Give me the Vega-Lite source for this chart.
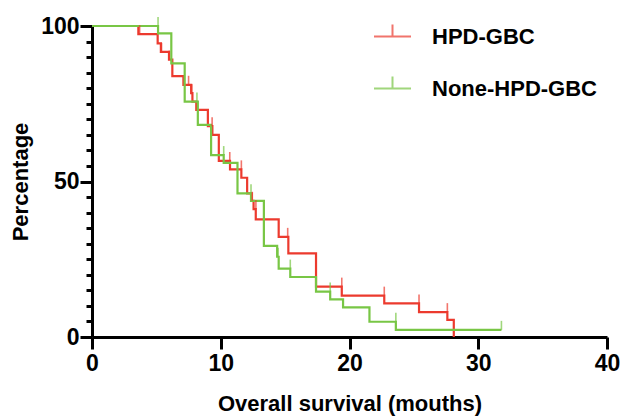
{
  "$schema": "https://vega.github.io/schema/vega-lite/v6.json",
  "width": 515,
  "height": 311,
  "autosize": {"type": "none"},
  "padding": {"left": 92, "top": 26, "right": 14, "bottom": 79},
  "background": "white",
  "config": {"view": {"stroke": null}, "font": "Liberation Sans"},
  "datasets": {
    "curve": [
      {"group": "HPD-GBC", "t": 0, "s": 100},
      {"group": "HPD-GBC", "t": 3.6, "s": 97.4},
      {"group": "HPD-GBC", "t": 5.1, "s": 94.4},
      {"group": "HPD-GBC", "t": 5.35, "s": 91.7},
      {"group": "HPD-GBC", "t": 5.98, "s": 89.2},
      {"group": "HPD-GBC", "t": 6.24, "s": 83.9},
      {"group": "HPD-GBC", "t": 7.1, "s": 81.1},
      {"group": "HPD-GBC", "t": 7.7, "s": 78.4},
      {"group": "HPD-GBC", "t": 7.8, "s": 75.7},
      {"group": "HPD-GBC", "t": 8.1, "s": 73.0},
      {"group": "HPD-GBC", "t": 9.0, "s": 67.8},
      {"group": "HPD-GBC", "t": 9.35, "s": 65.0},
      {"group": "HPD-GBC", "t": 9.85, "s": 56.6},
      {"group": "HPD-GBC", "t": 10.72, "s": 53.9},
      {"group": "HPD-GBC", "t": 11.6, "s": 51.2},
      {"group": "HPD-GBC", "t": 12.05, "s": 46.2},
      {"group": "HPD-GBC", "t": 12.4, "s": 43.8},
      {"group": "HPD-GBC", "t": 12.55, "s": 41.1},
      {"group": "HPD-GBC", "t": 12.72, "s": 37.8},
      {"group": "HPD-GBC", "t": 14.5, "s": 32.2},
      {"group": "HPD-GBC", "t": 15.25, "s": 26.9},
      {"group": "HPD-GBC", "t": 17.4, "s": 16.2},
      {"group": "HPD-GBC", "t": 19.4, "s": 13.3},
      {"group": "HPD-GBC", "t": 22.7, "s": 10.8},
      {"group": "HPD-GBC", "t": 25.4, "s": 8.0},
      {"group": "HPD-GBC", "t": 27.6, "s": 5.5},
      {"group": "HPD-GBC", "t": 28.1, "s": 0},
      {"group": "None-HPD-GBC", "t": 0, "s": 100},
      {"group": "None-HPD-GBC", "t": 5.13, "s": 97.6},
      {"group": "None-HPD-GBC", "t": 6.16, "s": 88.0},
      {"group": "None-HPD-GBC", "t": 7.2, "s": 75.7},
      {"group": "None-HPD-GBC", "t": 8.22, "s": 68.2},
      {"group": "None-HPD-GBC", "t": 9.25, "s": 58.5},
      {"group": "None-HPD-GBC", "t": 10.23, "s": 56.0},
      {"group": "None-HPD-GBC", "t": 11.3, "s": 46.2},
      {"group": "None-HPD-GBC", "t": 12.35, "s": 43.8},
      {"group": "None-HPD-GBC", "t": 13.35, "s": 29.3},
      {"group": "None-HPD-GBC", "t": 14.38, "s": 25.8},
      {"group": "None-HPD-GBC", "t": 14.5, "s": 22.0},
      {"group": "None-HPD-GBC", "t": 15.4, "s": 19.3},
      {"group": "None-HPD-GBC", "t": 17.4, "s": 14.6},
      {"group": "None-HPD-GBC", "t": 18.5, "s": 12.1},
      {"group": "None-HPD-GBC", "t": 19.5, "s": 9.5},
      {"group": "None-HPD-GBC", "t": 21.55, "s": 4.9},
      {"group": "None-HPD-GBC", "t": 23.6, "s": 2.3},
      {"group": "None-HPD-GBC", "t": 31.8, "s": 2.3}
    ],
    "censor": [
      {"group": "HPD-GBC", "t": 3.7, "s": 97.4},
      {"group": "HPD-GBC", "t": 5.4, "s": 91.7},
      {"group": "HPD-GBC", "t": 6.0, "s": 89.2},
      {"group": "HPD-GBC", "t": 7.5, "s": 81.1},
      {"group": "HPD-GBC", "t": 7.75, "s": 78.4},
      {"group": "HPD-GBC", "t": 9.33, "s": 67.8},
      {"group": "HPD-GBC", "t": 10.7, "s": 56.6},
      {"group": "HPD-GBC", "t": 11.6, "s": 53.9},
      {"group": "HPD-GBC", "t": 12.45, "s": 43.8},
      {"group": "HPD-GBC", "t": 12.73, "s": 41.1},
      {"group": "HPD-GBC", "t": 15.2, "s": 32.2},
      {"group": "HPD-GBC", "t": 19.4, "s": 16.2},
      {"group": "HPD-GBC", "t": 22.7, "s": 13.3},
      {"group": "HPD-GBC", "t": 25.4, "s": 10.8},
      {"group": "HPD-GBC", "t": 27.6, "s": 8.0},
      {"group": "None-HPD-GBC", "t": 5.13, "s": 100},
      {"group": "None-HPD-GBC", "t": 8.15, "s": 75.7},
      {"group": "None-HPD-GBC", "t": 10.23, "s": 58.5},
      {"group": "None-HPD-GBC", "t": 12.35, "s": 46.2},
      {"group": "None-HPD-GBC", "t": 14.45, "s": 25.8},
      {"group": "None-HPD-GBC", "t": 15.4, "s": 22.0},
      {"group": "None-HPD-GBC", "t": 18.5, "s": 14.6},
      {"group": "None-HPD-GBC", "t": 23.6, "s": 4.9},
      {"group": "None-HPD-GBC", "t": 31.8, "s": 2.3}
    ]
  },
  "encoding": {
    "x": {
      "field": "t", "type": "quantitative",
      "scale": {"domain": [0, 40], "nice": false},
      "axis": {
        "title": "Overall survival (mouths)",
        "values": [0, 10, 20, 30, 40],
        "grid": false,
        "domainColor": "black", "domainWidth": 3,
        "tickColor": "black", "tickWidth": 3, "tickSize": 12,
        "labelFontSize": 23, "labelFontWeight": "bold", "labelColor": "black", "labelPadding": 3,
        "labelFlush": false,
        "titleFontSize": 22, "titleFontWeight": "bold", "titleColor": "black", "titlePadding": 18
      }
    },
    "y": {
      "field": "s", "type": "quantitative",
      "scale": {"domain": [0, 100], "nice": false},
      "axis": {
        "title": "Percentage",
        "values": [0, 5, 10, 15, 20, 25, 30, 35, 40, 45, 50, 55, 60, 65, 70, 75, 80, 85, 90, 95, 100],
        "labelExpr": "datum.value % 50 === 0 ? datum.label : ''",
        "grid": false,
        "domainColor": "black", "domainWidth": 3,
        "tickColor": "black", "tickWidth": 3,
        "tickSize": {"condition": {"test": "datum.value % 50 === 0", "value": 12}, "value": 6},
        "labelFontSize": 23, "labelFontWeight": "bold", "labelColor": "black", "labelPadding": 1,
        "labelFlush": false,
        "titleFontSize": 22, "titleFontWeight": "bold", "titleColor": "black", "titlePadding": 8
      }
    },
    "color": {
      "field": "group", "type": "nominal",
      "scale": {"domain": ["HPD-GBC", "None-HPD-GBC"], "range": ["#EC3A2E", "#78C645"]},
      "legend": {
        "title": null,
        "orient": "none",
        "legendX": 281,
        "legendY": -9,
        "padding": 0,
        "symbolType": "M-1,0L1,0M0,0L0,-0.65",
        "symbolSize": 1369,
        "symbolStrokeWidth": 2,
        "symbolFillColor": "transparent",
        "labelFontSize": 22,
        "labelFontWeight": "bold",
        "labelColor": "black",
        "labelOffset": 20,
        "labelLimit": 0,
        "rowPadding": 21
      }
    }
  },
  "layer": [
    {
      "data": {"name": "curve"},
      "mark": {"type": "line", "interpolate": "step-after", "strokeWidth": 2.2},
      "encoding": {"detail": {"field": "group"}}
    },
    {
      "data": {"name": "censor"},
      "mark": {"type": "tick", "orient": "vertical", "size": 9, "thickness": 1.6, "yOffset": -4.5}
    }
  ]
}
